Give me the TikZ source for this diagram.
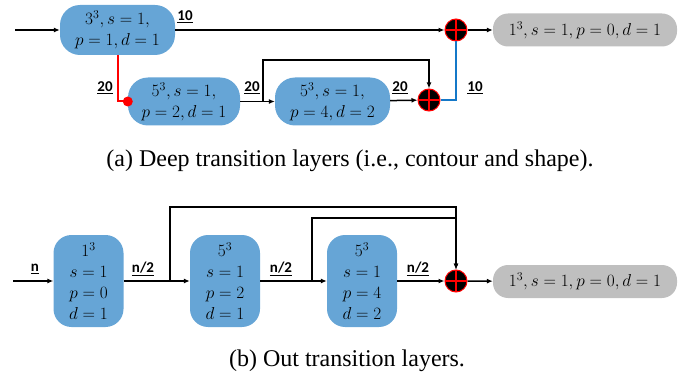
\documentclass[tikz,border=0pt]{standalone}
\usepackage{amsmath}
\usepackage{fontspec}
\setmainfont{Liberation Serif}
\newfontfamily\lblfont{Carlito}
\usetikzlibrary{arrows.meta}
\definecolor{layerblue}{RGB}{102,165,214}
\definecolor{outgray}{RGB}{191,191,191}
\definecolor{skipblue}{RGB}{20,120,200}

\begin{document}
\begin{tikzpicture}[x=1pt,y=-1pt,
		layer/.style={fill=layerblue,rounded corners=20pt,inner sep=0pt,align=center,font=\fontsize{18}{21}\selectfont},
		outlayer/.style={fill=outgray,rounded corners=15pt,inner sep=0pt,minimum width=184pt,minimum height=33pt,font=\fontsize{18}{21}\selectfont},
		sumnode/.style={circle,fill=black,draw=red,line width=1pt,minimum size=22pt,inner sep=0pt,
			path picture={\draw[red,line width=1.2pt](path picture bounding box.north) -- (path picture bounding box.south)
				(path picture bounding box.west) -- (path picture bounding box.east);}},
		wire/.style={black,line width=1.5pt,-{Latex[length=6pt,width=5pt]}},
		lbl/.style={font=\lblfont\bfseries\fontsize{15}{15}\selectfont}]
			\useasboundingbox (0,0) rectangle (683,377);

			\node[layer,minimum width=115pt,minimum height=50pt] (a1) at (117.5,30) {$3^3, s=1,$\\$p=1, d=1$};
			\node[layer,minimum width=112pt,minimum height=48pt] (a2) at (184,101.5) {$5^3, s=1,$\\$p=2, d=1$};
			\node[layer,minimum width=115pt,minimum height=48pt] (a3) at (332.5,101.5) {$5^3, s=1,$\\$p=4, d=2$};
			\node[sumnode] (asum1) at (456,30) {};
			\node[sumnode] (asum2) at (429,100) {};
			\node[outlayer] (aout) at (585,30) {$1^3, s=1, p=0, d=1$};
			\coordinate (ain) at (15,30);
			\coordinate (abr) at (263,101.5);

			\draw[wire] (ain) -- (a1);
			\draw[wire] (a1) -- (asum1);
			\draw[wire] (asum1) -- (aout);
			\draw[red,line width=2pt] (a1.south) |- (a2.west);
			\fill[red] (a2.west) circle (5pt);
			\draw[wire] (a2) -- (a3);
			\draw[wire] (abr) -- (263,60) -| (asum2.north);
			\draw[wire] (a3) -- (asum2);
			\draw[skipblue,line width=2pt] (asum2.east) -| (asum1.south);
			\node[lbl] (l1) at (185,17) {\underline{10}};
			\node[lbl] (l2) at (105,88) {\underline{20}};
			\node[lbl] (l3) at (252,88) {\underline{20}};
			\node[lbl] (l4) at (400,88) {\underline{20}};
			\node[lbl] (l5) at (475,88) {\underline{10}};
			\node[anchor=base,font=\fontsize{24}{28}\selectfont] (capa) at (350,167) {(a) Deep transition layers (i.e., contour and shape).};

			\node[layer,rounded corners=18pt,minimum width=70pt,minimum height=92pt] (b1) at (88.5,281) {$1^3$\\$s=1$\\$p=0$\\$d=1$};
			\node[layer,rounded corners=18pt,minimum width=70pt,minimum height=92pt] (b2) at (225,281) {$5^3$\\$s=1$\\$p=2$\\$d=1$};
			\node[layer,rounded corners=18pt,minimum width=70pt,minimum height=92pt] (b3) at (362,281) {$5^3$\\$s=1$\\$p=4$\\$d=2$};
			\node[sumnode] (bsum) at (456,281) {};
			\node[outlayer] (bout) at (585,281.5) {$1^3, s=1, p=0, d=1$};
			\coordinate (bin) at (13,281);
			\coordinate (bbr1) at (170,281);
			\coordinate (bbr2) at (312,281);

			\draw[wire] (bin) -- (b1);
			\draw[wire] (b1) -- (b2);
			\draw[wire] (b2) -- (b3);
			\draw[wire] (b3) -- (bsum);
			\draw[wire] (bsum) -- (bout);
			\draw[wire] (bbr1) -- (170,207) -| (bsum.north);
			\draw[wire] (bbr2) -- (312,218) -| (bsum.north);
			\node[lbl] (m1) at (35,269) {\underline{n}};
			\node[lbl] (m2) at (143,269) {\underline{n/2}};
			\node[lbl] (m3) at (281,269) {\underline{n/2}};
			\node[lbl] (m4) at (418,269) {\underline{n/2}};
			\node[anchor=base,font=\fontsize{24}{28}\selectfont] (capb) at (347,366) {(b) Out transition layers.};
		\end{tikzpicture}
\end{document}
